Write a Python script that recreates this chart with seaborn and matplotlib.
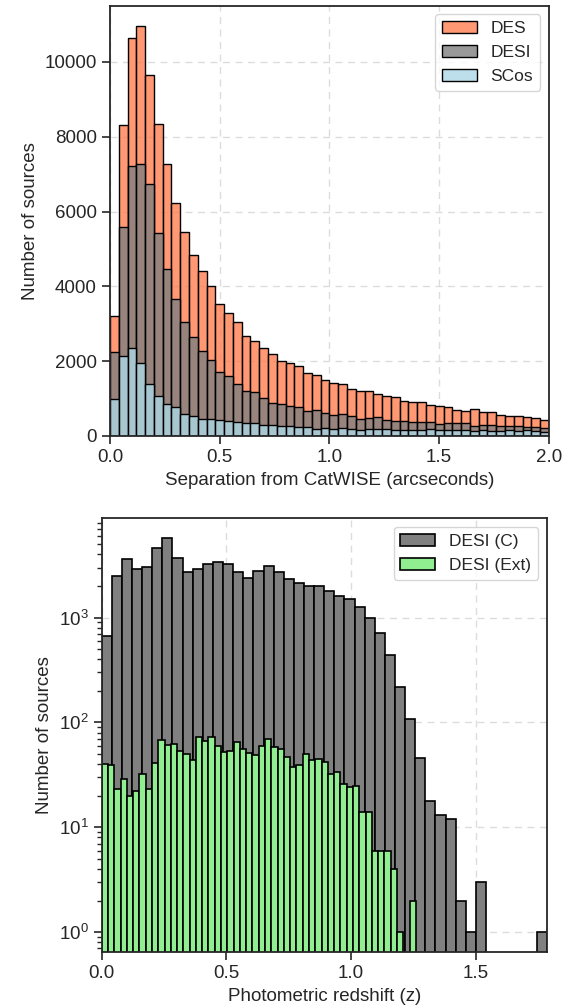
import numpy as np
import pandas as pd
import matplotlib
matplotlib.use("Agg")
import matplotlib.pyplot as plt
import seaborn as sns

# top panel: separation from CatWISE, 50 bins of 0.04 arcsec
sep_edges = np.linspace(0.0, 2.0, 51)
des_counts = [3200, 8310, 10630, 10960, 9650, 8330, 7260, 6220, 5450, 4850,
              4420, 4010, 3530, 3280, 3060, 2680, 2550, 2350, 2200, 2010,
              1950, 1880, 1680, 1625, 1490, 1414, 1387, 1244, 1199, 1199,
              1119, 1056, 1029, 931, 904, 895, 823, 788, 770, 698,
              662, 716, 635, 635, 573, 546, 546, 501, 474, 439]
desi_counts = [2250, 5590, 7220, 7280, 6740, 5420, 4465, 3670, 3060, 2640,
               2260, 2020, 1720, 1600, 1384, 1197, 1188, 1009, 893, 866,
               804, 768, 679, 697, 607, 555, 600, 546, 465, 492,
               501, 439, 394, 394, 376, 367, 367, 322, 340, 340,
               349, 277, 304, 304, 268, 268, 268, 242, 251, 224]
scos_counts = [982, 2125, 2340, 1956, 1384, 1063, 848, 768, 580, 545,
               455, 446, 429, 393, 366, 339, 339, 304, 304, 268,
               277, 241, 232, 196, 224, 197, 215, 197, 170, 179,
               179, 179, 152, 170, 161, 152, 179, 152, 152, 170,
               161, 143, 152, 143, 143, 152, 125, 152, 125, 116]

# bottom panel: photometric redshift
z_edges_c = np.linspace(0.0, 1.785, 45)
desi_c_counts = [672, 2493, 3623, 2887, 3055, 4603, 5700, 3726, 2740, 2906,
                 3221, 3388, 3265, 2740, 2370, 2782, 3126, 2740, 2349, 2124,
                 1987, 1987, 1804, 1607, 1494, 1262, 1000, 708, 440, 217,
                 107, 46, 18, 13, 12, 2, 1, 3, 0, 0,
                 0, 0, 0, 1]
z_edges_ext = np.linspace(0.0, 1.26, 51)
desi_ext_counts = [40, 39, 23, 29, 20, 22, 32, 23, 41, 68,
                   61, 62, 53, 50, 44, 73, 66, 72, 60, 52,
                   54, 65, 56, 51, 49, 60, 70, 58, 56, 47,
                   38, 39, 50, 44, 45, 42, 32, 34, 26, 24,
                   25, 14, 14, 6, 6, 6, 4, 1, 0, 2]

sns.set_style("ticks")
plt.rcParams['font.family'] = ['Liberation Sans', 'DejaVu Sans']
plt.rcParams['mathtext.fontset'] = 'custom'
plt.rcParams['mathtext.rm'] = 'Liberation Sans'
plt.rcParams['mathtext.it'] = 'Liberation Sans:italic'
plt.rcParams['font.size'] = 13.5


def binned(edges, counts):
    # one row per bin: centre + count used as weight
    return pd.DataFrame({'x': 0.5 * (edges[:-1] + edges[1:]),
                         'n': np.asarray(counts, dtype=float)})


fig = plt.figure(figsize=(5.7, 10.08), dpi=100)
ax1 = fig.add_axes([0.193, 0.5675, 0.770, 0.427])
ax2 = fig.add_axes([0.1784, 0.0558, 0.7807, 0.430])

hist_kw = dict(edgecolor='black', linewidth=1.0, alpha=0.8)
sns.histplot(data=binned(sep_edges, des_counts), x='x', weights='n',
             bins=list(sep_edges), color='coral', label='DES', ax=ax1, **hist_kw)
sns.histplot(data=binned(sep_edges, desi_counts), x='x', weights='n',
             bins=list(sep_edges), color='gray', label='DESI', ax=ax1, **hist_kw)
sns.histplot(data=binned(sep_edges, scos_counts), x='x', weights='n',
             bins=list(sep_edges), color='lightblue', label='SCos', ax=ax1, **hist_kw)
ax1.set_xlim(0, 2.0)
ax1.set_xticks([0.0, 0.5, 1.0, 1.5, 2.0])
ax1.set_xlabel('Separation from CatWISE (arcseconds)', fontsize=13.5)
ax1.set_ylabel('Number of sources', fontsize=13.5)
ax1.grid(True, ls=(0, (5, 4)), color='#dcdcdc', lw=1)
ax1.legend(loc='upper right', fontsize=12.5)

sns.histplot(data=binned(z_edges_c, desi_c_counts), x='x', weights='n',
             bins=list(z_edges_c), color='gray', edgecolor='black',
             linewidth=1.2, alpha=1, label='DESI (C)', ax=ax2)
sns.histplot(data=binned(z_edges_ext, desi_ext_counts), x='x', weights='n',
             bins=list(z_edges_ext), color='lightgreen', edgecolor='black',
             linewidth=1.2, alpha=1, label='DESI (Ext)', ax=ax2)
ax2.set_yscale('log')
ax2.set_ylim(0.65, 8850)
ax2.set_xlim(0, 1.785)
ax2.set_xticks([0.0, 0.5, 1.0, 1.5])
ax2.set_xlabel('Photometric redshift (z)', fontsize=13.5)
ax2.set_ylabel('Number of sources', fontsize=13.5)
ax2.grid(True, ls=(0, (5, 4)), color='#dcdcdc', lw=1)
ax2.legend(loc='upper right', fontsize=12.5)

for ax in (ax1, ax2):
    ax.set_axisbelow(True)
    ax.tick_params(which='major', labelsize=13.5, length=6, width=1.2)
    ax.tick_params(which='minor', length=3.5, width=1.0)
    for s in ax.spines.values():
        s.set_color('#262626')
        s.set_linewidth(1.3)

fig.savefig('out.png', dpi=100)
